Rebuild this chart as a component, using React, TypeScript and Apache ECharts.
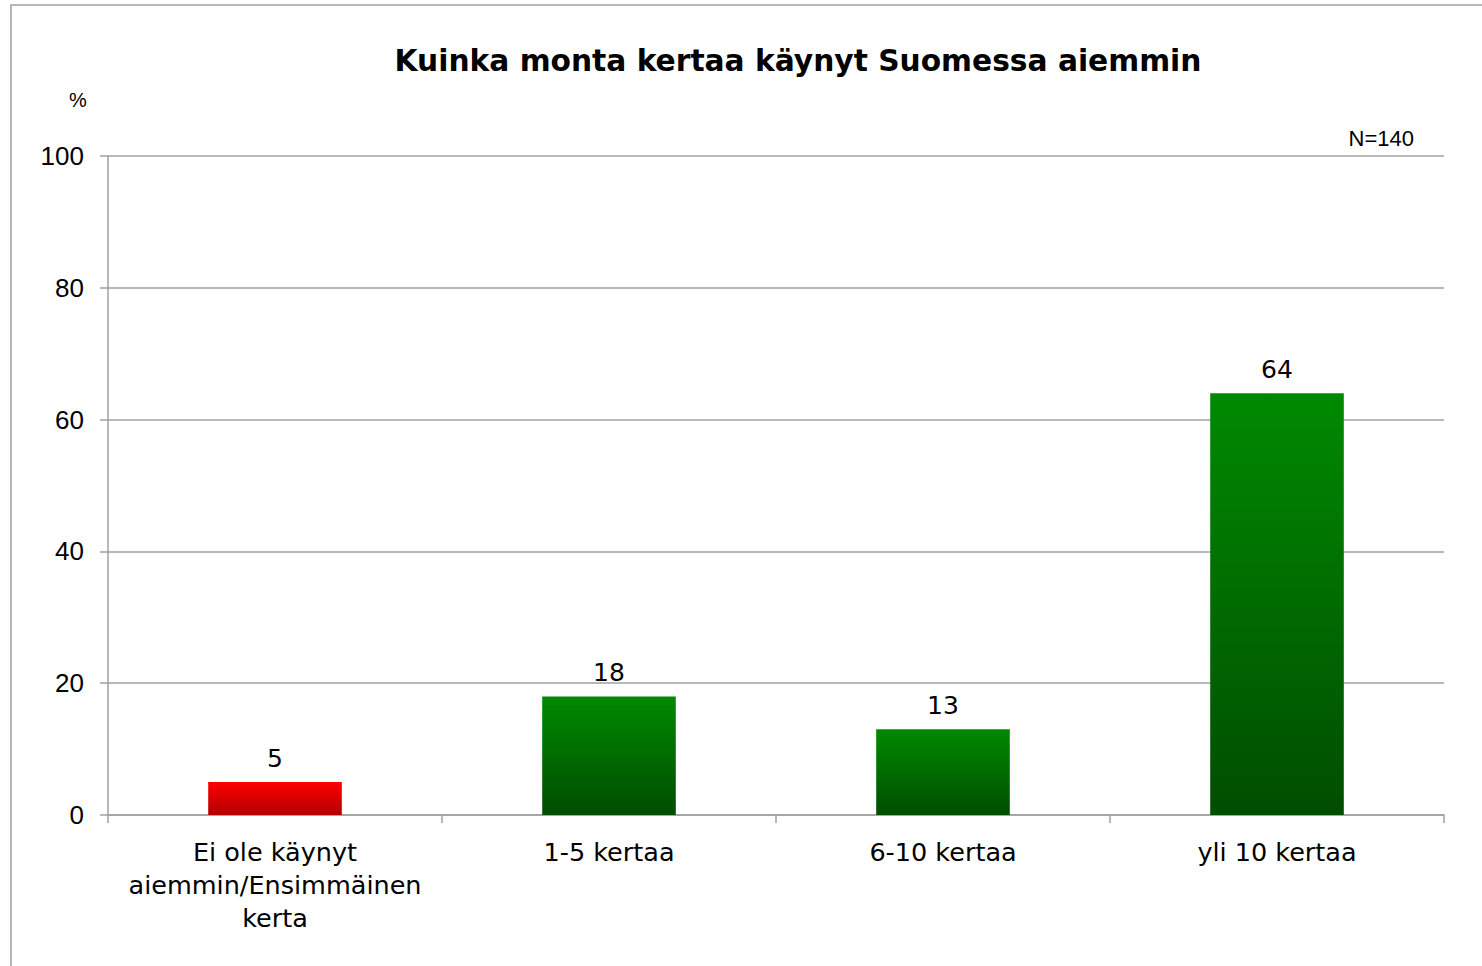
import React, { useEffect, useRef } from "react";
import * as echarts from "echarts";

const categories = ["Ei ole käynyt\naiemmin/Ensimmäinen\nkerta", "1-5 kertaa", "6-10 kertaa", "yli 10 kertaa"];
const values = [5, 18, 13, 64];
const title = "Kuinka monta kertaa käynyt Suomessa aiemmin";
const note = "N=140";

const labelFont = "DejaVu Sans";
const numFont = "Liberation Sans, Arial, sans-serif";

export default function App() {
  const ref = useRef<HTMLDivElement>(null);
  useEffect(() => {
    if (!ref.current) return;
    const chart = echarts.init(ref.current, null, { renderer: "svg" });
    const red = new echarts.graphic.LinearGradient(0, 0, 0, 1, [
      { offset: 0, color: "#ff0000" },
      { offset: 1, color: "#b00000" },
    ]);
    const green = new echarts.graphic.LinearGradient(0, 0, 0, 1, [
      { offset: 0, color: "#008a00" },
      { offset: 1, color: "#004d00" },
    ]);
    chart.setOption({
      animation: false,
      backgroundColor: "#ffffff",
      title: {
        text: title,
        left: 793,
        textAlign: "center",
        top: 40,
        textStyle: { fontFamily: labelFont, fontWeight: "bold", fontSize: 29.7, color: "#000" },
      },
      graphic: [
        {
          type: "rect",
          shape: { x: 11, y: 5, width: 1600, height: 1200 },
          style: { fill: "none", stroke: "#a0a0a0", lineWidth: 1.5 },
          silent: true,
        },
        {
          type: "text",
          x: 78,
          y: 100,
          style: { text: "%", fontFamily: numFont, fontSize: 20, fill: "#000", textAlign: "center", textVerticalAlign: "middle" },
        },
        {
          type: "text",
          x: 1414,
          y: 138,
          style: { text: note, fontFamily: numFont, fontSize: 22, fill: "#000", textAlign: "right", textVerticalAlign: "middle" },
        },
      ],
      grid: { left: 108, right: 38, top: 156, bottom: 151, containLabel: false },
      xAxis: {
        type: "category",
        data: categories,
        axisLine: { show: true, lineStyle: { color: "#a0a0a0", width: 1.5 } },
        axisTick: { show: true, alignWithLabel: false, interval: 0, length: 8, lineStyle: { color: "#a0a0a0", width: 1.5 } },
        axisLabel: {
          interval: 0,
          margin: 20,
          fontFamily: labelFont,
          fontSize: 25.5,
          lineHeight: 33,
          color: "#000",
        },
      },
      yAxis: {
        type: "value",
        min: 0,
        max: 100,
        interval: 20,
        axisLine: { show: true, lineStyle: { color: "#a0a0a0", width: 1.5 } },
        axisTick: { show: true, length: 8, lineStyle: { color: "#a0a0a0", width: 1.5 } },
        splitLine: { show: true, lineStyle: { color: "#a0a0a0", width: 1.5 } },
        axisLabel: { margin: 24, fontFamily: numFont, fontSize: 26, color: "#000" },
      },
      series: [
        {
          type: "bar",
          data: values.map((v, i) => ({ value: v, itemStyle: { color: i === 0 ? red : green } })),
          barCategoryGap: "60%",
          label: {
            show: true,
            position: "top",
            distance: 11,
            fontFamily: labelFont,
            fontSize: 25,
            color: "#000",
          },
        },
      ],
    });
    return () => chart.dispose();
  }, []);
  return <div ref={ref} style={{ position: "fixed", left: 0, top: 0, width: 1482, height: 966 }} />;
}
